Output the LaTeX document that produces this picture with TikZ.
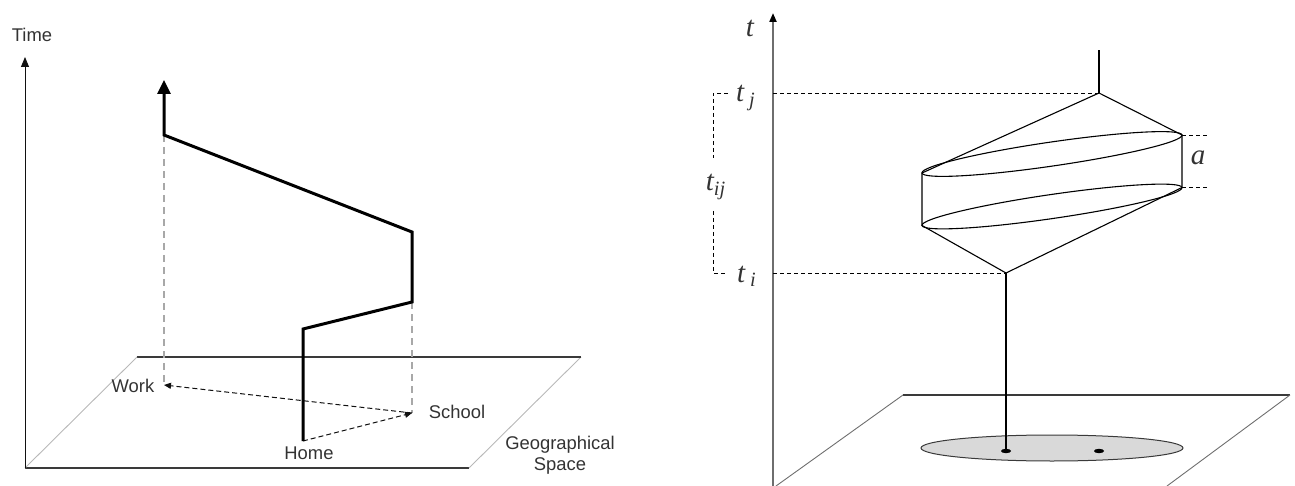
\documentclass[tikz,border=0pt]{standalone}
\usepackage{fontspec}
\setmainfont{Liberation Sans}
\newfontfamily\tmsfont{Liberation Serif}
\usetikzlibrary{arrows.meta}
\definecolor{geoink}{HTML}{111111}
\definecolor{geoedge}{HTML}{3A3A3A}
\definecolor{geoside}{HTML}{B8B8B8}
\definecolor{geoproj}{HTML}{A8A8A8}
\definecolor{geotext}{HTML}{333333}
\definecolor{geoaxis}{HTML}{6E6E6E}
\definecolor{geodisc}{HTML}{D9D9D9}
\tikzset{
  ax/.style={-{Triangle[length=5pt, width=4pt]}, line width=0.5pt, color=geoink},
  tax/.style={-{Triangle[length=4.5pt, width=3.5pt, color=black]}, line width=1pt, color=geoaxis},
  trip/.style={-{Triangle[length=7pt, width=6.5pt]}, line width=1.5pt, color=black},
  pedge/.style={line width=0.55pt, color=geoedge},
  pside/.style={line width=0.45pt, color=geoside},
  rside/.style={line width=0.45pt, color=geoaxis},
  proj/.style={line width=0.55pt, color=geoproj, dash pattern=on 3.5pt off 2.5pt},
  mv/.style={-{Triangle[length=3.5pt, width=3pt]}, line width=0.5pt, color=geoink, dash pattern=on 2.5pt off 1.5pt},
  lbl/.style={font=\fontsize{9.2}{10.5}\selectfont, text=geotext, inner sep=0pt, align=center},
  tlbl/.style={font=\tmsfont\itshape\fontsize{14.5}{16}\selectfont, text=geotext, inner sep=0pt},
  wire/.style={line width=0.55pt, color=black},
  guide/.style={line width=0.45pt, color=black, dash pattern=on 2pt off 1.5pt},
}
\begin{document}
\begin{tikzpicture}[x=0.5pt, y=-0.5pt]
  \useasboundingbox (0,0) rectangle (1295,486);
  % path in geographical space
  \coordinate (pa) at (25,468);  \coordinate (pb) at (469,468);
  \coordinate (pc) at (581,357); \coordinate (pd) at (137,357);
  \coordinate (tt) at (25,57);
  \coordinate (home) at (303,441); \coordinate (school) at (412,413); \coordinate (work) at (164,385);
  \coordinate (h1) at (303,329); \coordinate (s0) at (412,302); \coordinate (s1) at (412,232);
  \coordinate (w0) at (164,135); \coordinate (w1) at (164,80);
  \draw[pedge] (pa) -- (pb);  \draw[pside] (pb) -- (pc);
  \draw[pedge] (pc) -- (pd);  \draw[pside] (pd) -- (pa);
  \draw[ax] (pa) -- (tt);
  \draw[proj] (w0) -- (work);
  \draw[proj] (s0) -- (school);
  \draw[mv] (home) -- (school);
  \draw[mv] (school) -- (work);
  \draw[trip] (home) -- (h1) -- (s0) -- (s1) -- (w0) -- (w1);
  \node[lbl] (time) at (32,35) {Time};
  \node[lbl] (worklbl) at (133,386) {Work};
  \node[lbl] (schoollbl) at (457,412) {School};
  \node[lbl] (homelbl) at (309,453) {Home};
  \node[lbl] (geolbl) at (560,455) {Geographical\\Space};
  % space-time prism
  \coordinate (ro) at (773,486); \coordinate (rt) at (773,13);
  \coordinate (qa) at (776,486); \coordinate (qb) at (1167,486);
  \coordinate (qc) at (1290,395); \coordinate (qd) at (903,395);
  \coordinate (di) at (1006,451); \coordinate (dj) at (1099,451);
  \coordinate (ai) at (1006,273); \coordinate (aj) at (1099,93); \coordinate (aj0) at (1099,50);
  \coordinate (ul) at (922,173); \coordinate (ur) at (1182,135);
  \coordinate (ll) at (922,225.5); \coordinate (lr) at (1182,187.5);
  \coordinate (ri) at (773,273); \coordinate (rj) at (773,93);
  \coordinate (bj) at (728,93); \coordinate (bj1) at (713,93); \coordinate (bj2) at (713,158);
  \coordinate (bi) at (728,273); \coordinate (bi1) at (713,273); \coordinate (bi2) at (713,211);
  \coordinate (ga) at (1210,135); \coordinate (gb) at (1210,187.5);
  \draw[pedge] (qd) -- (qc);
  \draw[rside] (qd) -- (qa);  \draw[rside] (qc) -- (qb);
  \draw[line width=0.5pt, color=geoedge, fill=geodisc] (1052,448) ellipse [x radius=131, y radius=13];
  \foreach \d in {di,dj} \fill (\d) ellipse [x radius=5, y radius=2.2];
  \draw[tax] (ro) -- (rt);
  \draw[wire] (di) -- (ai);
  \draw[wire] (aj) -- (aj0);
  \foreach \cy in {154,206.5}
    \draw[wire, shift={(1052,\cy)}, rotate=8.3] (0,0) ellipse [x radius=131.4, y radius=12];
  \draw[wire] (ul) -- (aj) -- (ur) -- (lr) -- (ai) -- (ll) -- cycle;
  \draw[guide] (ri) -- (ai);
  \draw[guide] (rj) -- (aj);
  \draw[guide] (bj) -- (bj1) -- (bj2);
  \draw[guide] (bi2) -- (bi1) -- (bi);
  \draw[guide] (ur) -- (ga);
  \draw[guide] (lr) -- (gb);
  \node[tlbl] (tlab) at (750,28) {t};
  \node[tlbl] (tjlab) at (746,98) {t\,\textsubscript{j}};
  \node[tlbl] (tilab) at (747,276) {t\,\textsubscript{i}};
  \node[tlbl] (tijlab) at (716,187) {t\textsubscript{ij}};
  \node[tlbl] (alab) at (1198,158) {a};
\end{tikzpicture}
\end{document}
